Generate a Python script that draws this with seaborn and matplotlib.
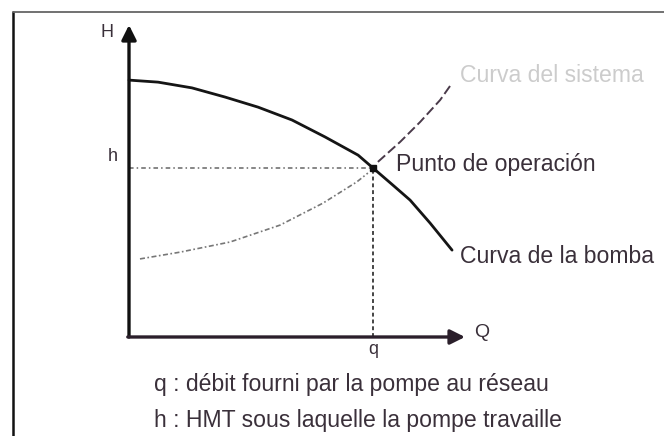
import numpy as np
import pandas as pd
import matplotlib.pyplot as plt
import seaborn as sns

sns.set_style("white")
plt.rcParams['font.family'] = ['Liberation Sans', 'DejaVu Sans']

# Curva de la bomba (Q, H)
pump_q = [0, 11.9, 25.8, 39.3, 52.9, 66.8, 80.3, 93.9, 100, 108.2, 115.2, 123.4, 132.4]
pump_h = [76.0, 75.4, 73.7, 71.0, 68.0, 64.2, 59.2, 53.8, 50, 44.9, 40.5, 33.7, 25.7]

# Curva del sistema: tramo bajo (punteado) y tramo alto (discontinuo)
sys_low_q = [4.5, 20.9, 41.4, 61.9, 79.5, 93.4, 97.9]
sys_low_h = [23.1, 25.1, 28.1, 33.1, 39.6, 45.9, 48.5]
sys_high_q = [102.0, 111.1, 119.3, 127.5, 132.4]
sys_high_h = [51.8, 57.7, 63.6, 70.1, 75.1]

# Punto de operacion
op_q, op_h = 100, 50
axis_q_max, axis_h_max = 137.7, 92.3

caption = ["q : débit fourni par la pompe au réseau",
           "h : HMT sous laquelle la pompe travaille"]

ink = '#2b1f2b'
text_c = '#3a303a'

fig = plt.figure(figsize=(6.64, 4.36), dpi=100)
ax = fig.add_axes([0, 0, 1, 1])
ax.set_xlim(-52.87, 219.26)
ax.set_ylim(-29.29, 99.70)
ax.axis('off')

# Marco de la figura
fig.add_artist(plt.Line2D([13 / 664, 13 / 664], [0, 1 - 12 / 436], color='#111111', lw=1.8))
fig.add_artist(plt.Line2D([13 / 664, 1], [1 - 12 / 436, 1 - 12 / 436], color='#666666', lw=1.3))

# Ejes con flechas
ax.annotate('', xy=(0, axis_h_max), xytext=(0, 0),
            arrowprops=dict(arrowstyle='-|>', lw=2.4, color='#111111', mutation_scale=22,
                            shrinkA=0, shrinkB=0))
ax.annotate('', xy=(axis_q_max, 0), xytext=(-0.5, 0),
            arrowprops=dict(arrowstyle='-|>', lw=2.4, color=ink, mutation_scale=22,
                            shrinkA=0, shrinkB=0))

# Lineas guia
ax.plot([0, op_q], [op_h, op_h], color='#666666', lw=1.1, ls=(0, (3, 2, 1, 2)))
ax.plot([op_q, op_q], [0, op_h], color='#444444', lw=1.4, ls=(0, (2, 1.5)))

# Curvas
sns.lineplot(x=pump_q, y=pump_h, ax=ax, color='#151515', lw=2.0, sort=False)
sns.lineplot(x=sys_low_q, y=sys_low_h, ax=ax, color='#777777', lw=1.2,
             sort=False, linestyle=(0, (3, 1.5, 1, 1.5)))
sns.lineplot(x=sys_high_q, y=sys_high_h, ax=ax, color='#4a3a4a', lw=1.4,
             sort=False, linestyle=(0, (5, 2)))
ax.plot(op_q, op_h, marker='s', ms=5, color='#111111')

# Textos
ax.text(-6.5, axis_h_max - 2.2, 'H', fontsize=13, color=text_c, ha='right', va='center')
ax.text(141.5, 1.2, 'Q', fontsize=14, color=text_c, ha='left', va='center')
ax.text(-4.5, 53.3, 'h', fontsize=13, color=text_c, ha='right', va='center')
ax.text(op_q, -3.8, 'q', fontsize=13, color=text_c, ha='center', va='center')
ax.text(109.4, 51.0, 'Punto de operación', fontsize=16.6, color=text_c, ha='left', va='center')
ax.text(135.7, 23.8, 'Curva de la bomba', fontsize=16.6, color=text_c, ha='left', va='center')
ax.text(135.7, 77.5, 'Curva del sistema', fontsize=16.6, color='#cccccc', ha='left', va='center')
for i, line in enumerate(caption):
    ax.text(10.2, -14.2 - i * 10.4, line, fontsize=16.6, color=text_c, ha='left', va='center')

plt.savefig('out.png', dpi=100)
plt.close()
